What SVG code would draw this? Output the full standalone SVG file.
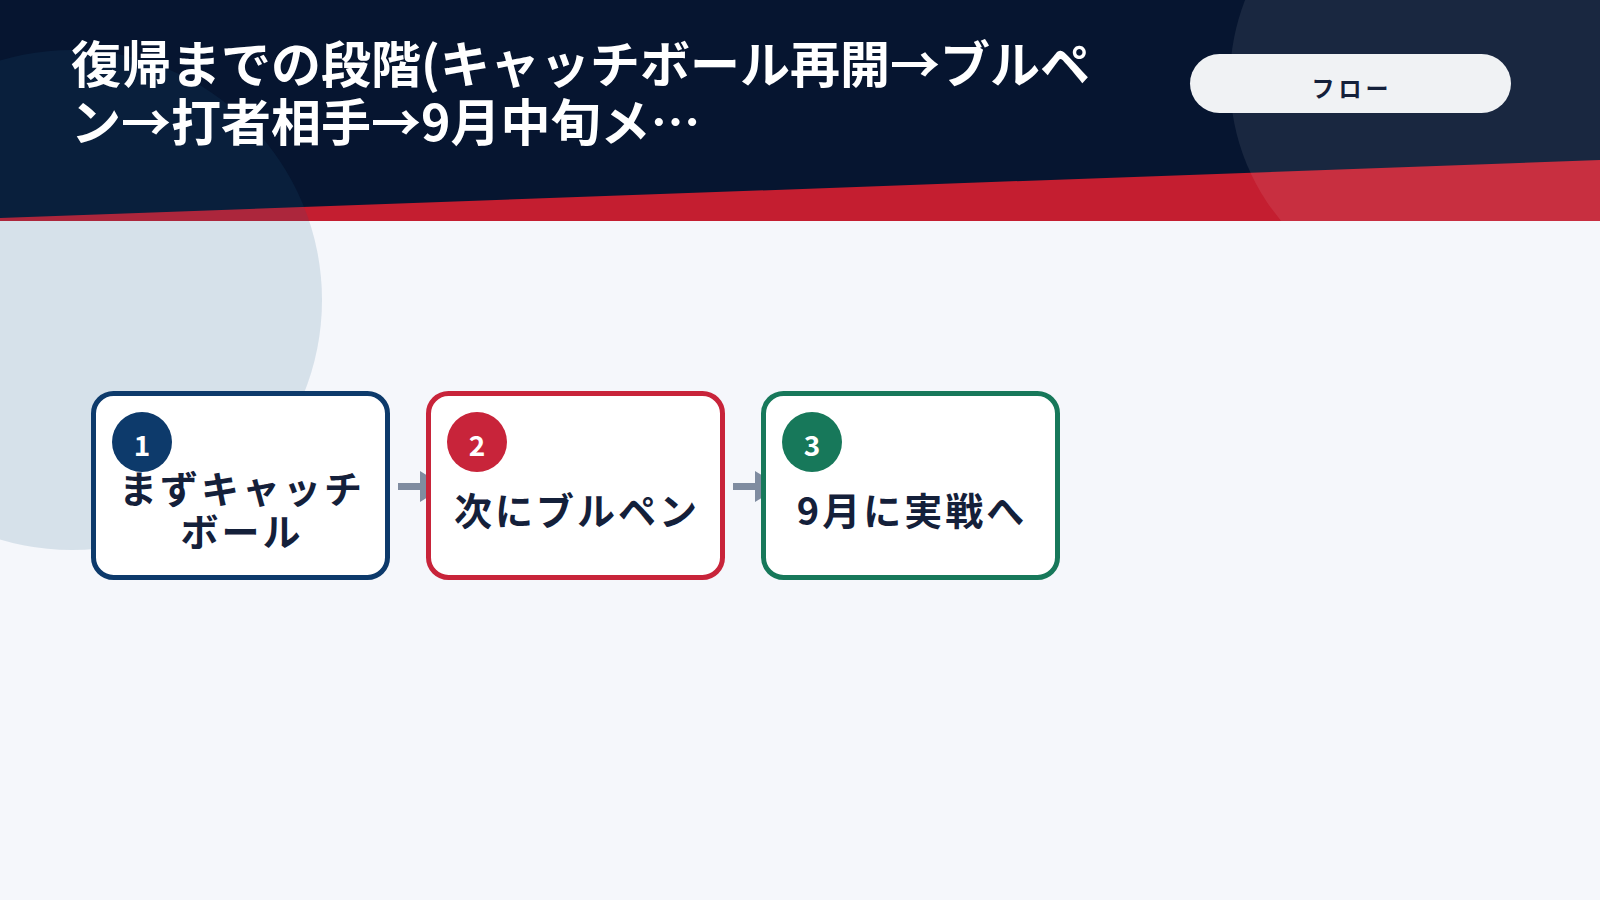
<svg xmlns="http://www.w3.org/2000/svg" width="1600" height="900" viewBox="0 0 1600 900">
<style>
.t{font-family:"Noto Sans CJK JP","Noto Sans",sans-serif;font-weight:700}
.title{fill:#ffffff;font-size:50px}
.box{fill:#ffffff;stroke-width:5}
.lbl{fill:#14203a;font-size:38px;letter-spacing:3px;text-anchor:middle}
.num{fill:#ffffff;font-size:28px;text-anchor:middle}
.conn{stroke:#7f8ca0;stroke-width:7;fill:none}
.head{fill:#7f8ca0}
</style>
<rect x="0" y="0" width="1600" height="900" fill="#f5f7fb"/>
<rect x="0" y="0" width="1600" height="221" fill="#061530"/>
<polygon points="0,218 1600,160 1600,221 0,221" fill="#c41e30"/>
<circle cx="72" cy="300" r="250" fill="#1f5a8a" fill-opacity="0.14"/>
<circle cx="1450" cy="80" r="220" fill="#ffffff" fill-opacity="0.08"/>
<g id="title">
<text class="t title" x="71" y="83">復帰までの段階(キャッチボール再開→ブルペ</text>
<text class="t title" x="71" y="141">ン→打者相手→9月中旬メ…</text>
</g>
<g id="tag">
<rect x="1190" y="54" width="321" height="59" rx="29.5" fill="#f0f2f4"/>
<text class="t" x="1352" y="97" font-size="23" letter-spacing="4" fill="#14203a" text-anchor="middle">フロー</text>
</g>
<g id="connectors">
<line class="conn" x1="398" y1="486.5" x2="424" y2="486.5"/>
<polygon class="head" points="420,471 420,502 445,486.5"/>
<line class="conn" x1="733" y1="486.5" x2="759" y2="486.5"/>
<polygon class="head" points="755,471 755,502 780,486.5"/>
</g>
<g id="step1">
<rect class="box" x="93.5" y="393.5" width="294" height="184" rx="20" stroke="#0d3a6b"/>
<circle cx="142" cy="442" r="30" fill="#0d3a6b"/>
<text class="t num" x="142" y="456">1</text>
<text class="t lbl" x="242" y="503">まずキャッチ</text>
<text class="t lbl" x="242" y="546">ボール</text>
</g>
<g id="step2">
<rect class="box" x="428.5" y="393.5" width="294" height="184" rx="20" stroke="#c8243a"/>
<circle cx="477" cy="442" r="30" fill="#c8243a"/>
<text class="t num" x="477" y="456">2</text>
<text class="t lbl" x="577" y="525">次にブルペン</text>
</g>
<g id="step3">
<rect class="box" x="763.5" y="393.5" width="294" height="184" rx="20" stroke="#17785a"/>
<circle cx="812" cy="442" r="30" fill="#17785a"/>
<text class="t num" x="812" y="456">3</text>
<text class="t lbl" x="912" y="525">9月に実戦へ</text>
</g>
</svg>
